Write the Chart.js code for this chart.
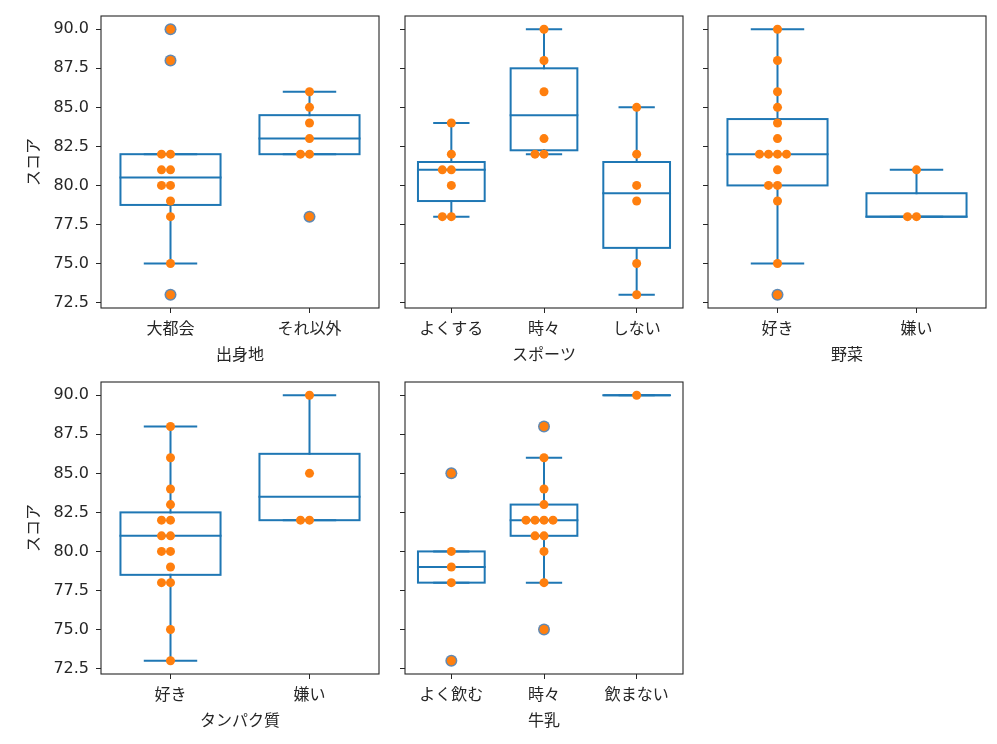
<!DOCTYPE html>
<html lang="ja">
<head>
<meta charset="utf-8">
<title>スコア 箱ひげ図</title>
<script src="https://cdn.jsdelivr.net/npm/chart.js@4.4.1/dist/chart.umd.min.js"></script>
<style>
    body { margin: 0; background: #fff; width: 997px; height: 744px; position: relative; overflow: hidden; }
    canvas { position: absolute; }
</style>
</head>
<body>
<canvas id="birthChart"></canvas>
<canvas id="sportChart"></canvas>
<canvas id="vegChart"></canvas>
<canvas id="proteinChart"></canvas>
<canvas id="milkChart"></canvas>
<script>
const birthCats = ['大都会', 'それ以外'];
const birthScores = [
    [90, 88, 82, 82, 81, 81, 80, 80, 79, 78, 75, 73],
    [86, 85, 84, 83, 82, 82, 78]
];
const sportCats = ['よくする', '時々', 'しない'];
const sportScores = [
    [84, 82, 81, 81, 80, 78, 78],
    [90, 88, 86, 83, 82, 82],
    [85, 82, 80, 79, 75, 73]
];
const vegCats = ['好き', '嫌い'];
const vegScores = [
    [90, 88, 86, 85, 84, 83, 82, 82, 82, 82, 81, 80, 80, 79, 75, 73],
    [81, 78, 78]
];
const proteinCats = ['好き', '嫌い'];
const proteinScores = [
    [88, 86, 84, 83, 82, 82, 81, 81, 80, 80, 79, 78, 78, 75, 73],
    [90, 85, 82, 82]
];
const milkCats = ['よく飲む', '時々', '飲まない'];
const milkScores = [
    [85, 80, 79, 78, 73],
    [88, 86, 84, 83, 82, 82, 82, 82, 81, 81, 80, 78, 75],
    [90]
];
const yTicks = [72.5, 75, 77.5, 80, 82.5, 85, 87.5, 90];
const yMin = 72.15;
const yMax = 90.85;

// Layout / style
const COL_LEFT = [101, 405, 708];
const ROW_TOP = [16, 382];
const PLOT_W = 278;
const PLOT_H = 292;
const Y_AXIS_W = 81;
const X_AXIS_H = 62;
const PAD_TOP = 8;
const PAD_RIGHT = 8;
const BOX_COLOR = '#1f77b4';
const DOT_COLOR = '#ff7f0e';
const FLIER_COLOR = '#6089b3';
const TEXT_COLOR = '#262626';
const BOX_WIDTH = 0.72;
const CAP_WIDTH = 0.37;
const SWARM_STEP = 9;
const SWARM_ORDER = [0, -1, 1, -2, 2, -3, 3];

const JP_FONT = "'Noto Sans CJK JP', 'Noto Sans', sans-serif";
const NUM_FONT = "'DejaVu Sans', sans-serif";

// numpy-style linear quantile
function quantile(sorted, p) {
    const pos = (sorted.length - 1) * p;
    const lo = Math.floor(pos);
    const hi = Math.ceil(pos);
    return sorted[lo] + (sorted[hi] - sorted[lo]) * (pos - lo);
}

function boxStats(values) {
    const s = [...values].sort((a, b) => a - b);
    const q1 = quantile(s, 0.25);
    const med = quantile(s, 0.5);
    const q3 = quantile(s, 0.75);
    const iqr = q3 - q1;
    const inside = s.filter(v => v >= q1 - 1.5 * iqr && v <= q3 + 1.5 * iqr);
    return {
        q1, med, q3,
        lo: Math.min(...inside),
        hi: Math.max(...inside),
        fliers: s.filter(v => !inside.includes(v))
    };
}

// no label overhang padding, the plot box is placed by hand
function zeroPadding(scale) {
    scale.paddingTop = 0;
    scale.paddingBottom = 0;
    scale.paddingLeft = 0;
    scale.paddingRight = 0;
}

function makePanel(canvasId, col, row, cats, scores, xTitle, showYLabels) {
    const canvas = document.getElementById(canvasId);
    canvas.width = Y_AXIS_W + PLOT_W + PAD_RIGHT;
    canvas.height = PAD_TOP + PLOT_H + X_AXIS_H;
    canvas.style.left = (COL_LEFT[col] - Y_AXIS_W) + 'px';
    canvas.style.top = (ROW_TOP[row] - PAD_TOP) + 'px';

    // swarm points + horizontal slot for equal values
    const points = [];
    const slots = [];
    scores.forEach((vals, i) => {
        const seen = {};
        vals.forEach(v => {
            const k = seen[v] || 0;
            seen[v] = k + 1;
            points.push({ x: cats[i], y: v });
            slots.push(SWARM_ORDER[k]);
        });
    });

    const boxPlugin = {
        id: 'boxes',
        afterDatasetUpdate(chart, args) {
            args.meta.data.forEach((pt, j) => { pt.x += slots[j] * SWARM_STEP; });
        },
        beforeDatasetsDraw(chart) {
            const ctx = chart.ctx;
            const xs = chart.scales.x;
            const ys = chart.scales.y;
            const band = xs.width / cats.length;
            ctx.save();
            ctx.strokeStyle = BOX_COLOR;
            ctx.lineWidth = 2;
            ctx.lineCap = 'square';
            scores.forEach((vals, i) => {
                const st = boxStats(vals);
                const cx = xs.getPixelForValue(i);
                const hw = band * BOX_WIDTH / 2;
                const cw = band * CAP_WIDTH / 2;
                const yQ1 = ys.getPixelForValue(st.q1);
                const yQ3 = ys.getPixelForValue(st.q3);
                const yMed = ys.getPixelForValue(st.med);
                const yLo = ys.getPixelForValue(st.lo);
                const yHi = ys.getPixelForValue(st.hi);
                ctx.beginPath();
                ctx.moveTo(cx, yQ1); ctx.lineTo(cx, yLo);
                ctx.moveTo(cx, yQ3); ctx.lineTo(cx, yHi);
                ctx.moveTo(cx - cw, yLo); ctx.lineTo(cx + cw, yLo);
                ctx.moveTo(cx - cw, yHi); ctx.lineTo(cx + cw, yHi);
                ctx.stroke();
                ctx.strokeRect(cx - hw, yQ3, hw * 2, yQ1 - yQ3);
                ctx.beginPath();
                ctx.moveTo(cx - hw, yMed); ctx.lineTo(cx + hw, yMed);
                ctx.stroke();
                ctx.fillStyle = FLIER_COLOR;
                st.fliers.forEach(v => {
                    ctx.beginPath();
                    ctx.arc(cx, ys.getPixelForValue(v), 6, 0, Math.PI * 2);
                    ctx.fill();
                });
            });
            ctx.restore();
        },
        afterDraw(chart) {
            const a = chart.chartArea;
            const ctx = chart.ctx;
            ctx.save();
            ctx.strokeStyle = TEXT_COLOR;
            ctx.lineWidth = 1.1;
            ctx.strokeRect(a.left, a.top, a.right - a.left, a.bottom - a.top);
            ctx.restore();
        }
    };

    return new Chart(canvas, {
        type: 'scatter',
        data: {
            datasets: [{
                data: points,
                backgroundColor: DOT_COLOR,
                borderWidth: 0,
                pointRadius: 4.5,
                pointHoverRadius: 4.5
            }]
        },
        options: {
            responsive: false,
            animation: false,
            events: [],
            layout: { autoPadding: false, padding: { top: PAD_TOP, right: PAD_RIGHT, bottom: 0, left: 0 } },
            plugins: { legend: { display: false }, tooltip: { enabled: false } },
            scales: {
                x: {
                    type: 'category',
                    labels: cats,
                    offset: true,
                    border: { display: false },
                    grid: { offset: false, drawOnChartArea: false, tickLength: 5, color: TEXT_COLOR },
                    ticks: { color: TEXT_COLOR, padding: 5, font: { family: JP_FONT, size: 16 }, maxRotation: 0, autoSkip: false },
                    title: { display: true, text: xTitle, color: TEXT_COLOR, padding: { top: 0, bottom: 6 }, font: { family: JP_FONT, size: 16 } },
                    afterFit(scale) { scale.height = X_AXIS_H; zeroPadding(scale); }
                },
                y: {
                    type: 'linear',
                    min: yMin,
                    max: yMax,
                    border: { display: false },
                    grid: { drawOnChartArea: false, tickLength: 5, color: TEXT_COLOR },
                    ticks: {
                        color: TEXT_COLOR,
                        padding: 7,
                        autoSkip: false,
                        font: { family: NUM_FONT, size: 16 },
                        callback: v => showYLabels ? Number(v).toFixed(1) : ''
                    },
                    title: { display: showYLabels, text: 'スコア', color: TEXT_COLOR, padding: { top: 3, bottom: 0 }, font: { family: JP_FONT, size: 16 } },
                    afterBuildTicks(scale) { scale.ticks = yTicks.map(v => ({ value: v })); },
                    afterFit(scale) { scale.width = Y_AXIS_W; zeroPadding(scale); }
                }
            }
        },
        plugins: [boxPlugin]
    });
}

makePanel('birthChart', 0, 0, birthCats, birthScores, '出身地', true);
makePanel('sportChart', 1, 0, sportCats, sportScores, 'スポーツ', false);
makePanel('vegChart', 2, 0, vegCats, vegScores, '野菜', false);
makePanel('proteinChart', 0, 1, proteinCats, proteinScores, 'タンパク質', true);
makePanel('milkChart', 1, 1, milkCats, milkScores, '牛乳', false);
</script>
</body>
</html>
